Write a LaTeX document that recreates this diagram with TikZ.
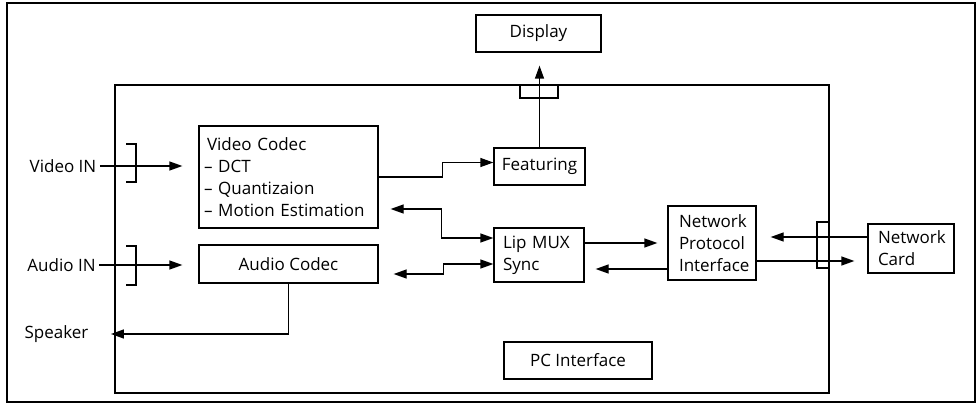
\documentclass[tikz,border=0pt]{standalone}
\usepackage{fontspec}
\setmainfont{Open Sans}
\usetikzlibrary{arrows.meta}
\hyphenpenalty=10000

\begin{document}
\begin{tikzpicture}[x=1pt, y=-1pt, every node/.style={font=\fontsize{17}{22}\selectfont}]
\useasboundingbox (0,0) rectangle (977,404);
\tikzset{blk/.style={draw, line width=1.3pt, inner sep=0pt}}
\tikzset{txtblk/.style={blk, align=left, inner xsep=10pt, text width=#1}}

\draw[line width=1.3pt] (7,3) rectangle (975,402);
\draw[line width=1.3pt] (115,85) rectangle (829,393);

\node[txtblk=169pt, inner xsep=5pt, minimum height=102pt] (vc) at (288.5,177) {\hspace*{3pt}Video Codec\\ – DCT\\ – Quantizaion\\ – Motion Estimation};
\node[blk, minimum width=125pt, minimum height=37pt] (disp) at (538.5,33.5) {Display};
\node[blk, minimum width=91pt, minimum height=37pt] (feat) at (539.5,166.5) {Featuring};
\node[blk, minimum width=179pt, minimum height=38pt] (ac) at (288.5,264) {Audio Codec};
\node[txtblk=72pt, inner xsep=9pt, minimum height=54pt] (lip) at (539,255) {Lip MUX\\Sync};
\node[txtblk=66pt, inner xsep=11pt, minimum height=74pt] (npi) at (712,243) {Network\\Protocol\\Interface};
\node[txtblk=66pt, minimum height=49pt] (nc) at (911,248.5) {Network\\Card};
\node[blk, minimum width=148pt, minimum height=37pt] (pc) at (578,360.5) {PC Interface};

\node (vin) at (63,166) {Video IN};
\node (ain) at (61.5,265) {Audio IN};
\node (spk) at (56.5,334) {Speaker};

% brackets on the PC box
\draw[line width=1.3pt] (126,144) -- (136,144) -- (136,182) -- (126,182);
\draw[line width=1.3pt] (126,246) -- (136,246) -- (136,285) -- (126,285);
\draw[line width=1.3pt] (520,85) -- (520,98) -- (558,98) -- (558,85);
\draw[line width=1.3pt] (829,222) -- (817,222) -- (817,268) -- (829,268);

\tikzset{myarrow/.style={-{Triangle[length=13pt,width=9pt]}, line width=1.3pt}}
\draw[myarrow, shorten >=16pt] (vin.east) -- (vin.east -| vc.west);
\draw[myarrow, shorten >=16pt] (ain.east) -- (ain.east -| ac.west);
\draw[myarrow, shorten >=19pt] (ac.south) -- (ac.south |- spk.east) -- (spk.east);
\draw[myarrow] (vc.east) -- ++(64,0) |- ([yshift=4pt]feat.west);
\draw[myarrow, shorten >=13pt] (feat.north) -- (feat.north |- disp.south);
\draw[myarrow, shorten >=10pt] (npi.west -| lip.east) -- (npi.west);
\draw[myarrow, shorten >=11pt] ([yshift=-26pt]npi.west) -- ([yshift=-26pt]npi.west -| lip.east);
\draw[myarrow, shorten >=14pt] ([yshift=11.5pt]nc.west) -- ([yshift=11.5pt]nc.west -| npi.east);
\draw[myarrow, shorten >=13pt] ([yshift=-18pt]npi.east) -- ([yshift=-18pt]npi.east -| nc.west);

\tikzset{myarrow/.style={{Triangle[length=13pt,width=9pt]}-{Triangle[length=13pt,width=9pt]}, line width=1.3pt}}
\draw[myarrow, shorten <=12pt] ([yshift=-32pt]vc.east) -- ++(63,0) |- ([yshift=17pt]lip.west);
\draw[myarrow, shorten <=15pt] ([yshift=-10pt]ac.east) -- ++(65,0) |- ([yshift=-9pt]lip.west);
\end{tikzpicture}
\end{document}
